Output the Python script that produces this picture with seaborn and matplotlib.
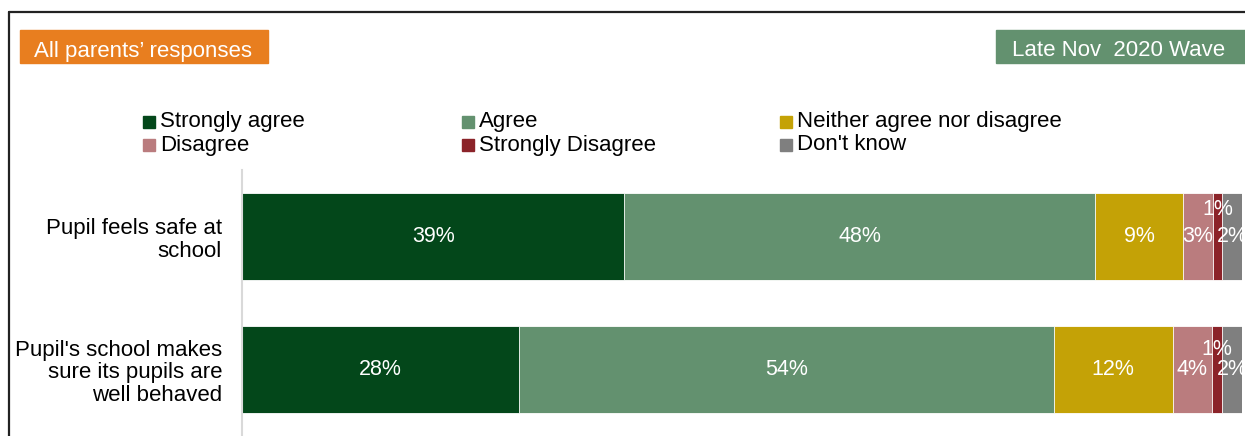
import numpy as np
import pandas as pd
import matplotlib
matplotlib.use("Agg")
import matplotlib.pyplot as plt
from matplotlib.patches import Rectangle
from matplotlib.lines import Line2D
import seaborn as sns

# Survey data
statements = ["Pupil feels safe at\nschool",
              "Pupil's school makes\nsure its pupils are\nwell behaved"]
responses = ["Strongly agree", "Agree", "Neither agree nor disagree",
             "Disagree", "Strongly Disagree", "Don't know"]
strongly_agree = [39, 28]
agree = [48, 54]
neither = [9, 12]
disagree = [3, 4]
strongly_disagree = [1, 1]
dont_know = [2, 2]
colors = ["#03471A", "#63916F", "#C4A206", "#BA7C7E", "#8B2329", "#7F7F7F"]

sns.set_theme(style="white")
plt.rcParams["font.family"] = ["Liberation Sans", "DejaVu Sans"]

values = np.array([strongly_agree, agree, neither, disagree,
                   strongly_disagree, dont_know], dtype=float)
# 100% stacked: each statement's segments scaled to its own total
shares = values / values.sum(axis=0) * 100
cum = np.cumsum(shares, axis=0)

W, H = 1245, 436
fig = plt.figure(figsize=(W / 100, H / 100), dpi=100)
ax = fig.add_axes([242 / W, 0, 1000 / W, 266 / H])

# Draw cumulative bars from the outermost segment inwards
for i in range(len(responses) - 1, -1, -1):
    df = pd.DataFrame({"statement": statements, "cum": cum[i]})
    sns.barplot(data=df, x="cum", y="statement", color=colors[i],
                width=0.654, saturation=1, ax=ax,
                edgecolor="white", linewidth=0.6)

ax.set_xlim(0, 100)
ax.set_ylim(1.5, -0.5)
ax.set_xlabel("")
ax.set_ylabel("")
ax.set_xticks([])
ax.tick_params(axis="y", length=0, pad=14.4, labelsize=16, labelcolor="black")
for lbl in ax.get_yticklabels():
    lbl.set_horizontalalignment("right")
    lbl.set_multialignment("right")
    lbl.set_linespacing(1.12)
for s in ["top", "right", "bottom"]:
    ax.spines[s].set_visible(False)
ax.spines["left"].set_color("#D9D9D9")
ax.spines["left"].set_linewidth(1.5)

# Segment value labels; the thin "Strongly Disagree" label sits above the others
starts = cum - shares
lift = [0.2, 0.15]
for i in range(len(responses)):
    for j in range(len(statements)):
        xc = starts[i, j] + shares[i, j] / 2
        yc = j
        if responses[i] == "Strongly Disagree":
            yc = j - lift[j]
        ax.text(xc, yc, f"{int(values[i, j])}%", ha="center", va="center",
                color="white", fontsize=15.5, clip_on=False)

# Header boxes
fig.patches.append(Rectangle((20 / W, 1 - 63 / H), 248 / W, 33 / H,
                             transform=fig.transFigure, color="#E87E1F"))
fig.text(143.5 / W, 1 - 51 / H, "All parents\u2019 responses", color="white",
         fontsize=16, ha="center", va="center")
fig.patches.append(Rectangle((996 / W, 1 - 63 / H), 249 / W, 33 / H,
                             transform=fig.transFigure, color="#63916F"))
fig.text(1119 / W, 1 - 51 / H, "Late Nov  2020 Wave", color="white",
         fontsize=16, ha="center", va="center")

# Legend
col_x = [143, 462, 780]
row_y = [122, 145]
for i, name in enumerate(responses):
    cx = col_x[i % 3]
    cy = row_y[i // 3]
    fig.patches.append(Rectangle((cx / W, 1 - (cy + 6) / H), 12 / W, 12 / H,
                                 transform=fig.transFigure, color=colors[i]))
    fig.text((cx + 17) / W, 1 - cy / H, name, fontsize=16,
             ha="left", va="center", color="black")

# Outer frame
fig.add_artist(Line2D([9 / W, 9 / W], [0, 1 - 12 / H], color="#222222",
                      lw=1.6, transform=fig.transFigure))
fig.add_artist(Line2D([9 / W, 1], [1 - 12 / H, 1 - 12 / H], color="#222222",
                      lw=1.6, transform=fig.transFigure))

fig.savefig("out.png", dpi=100)
